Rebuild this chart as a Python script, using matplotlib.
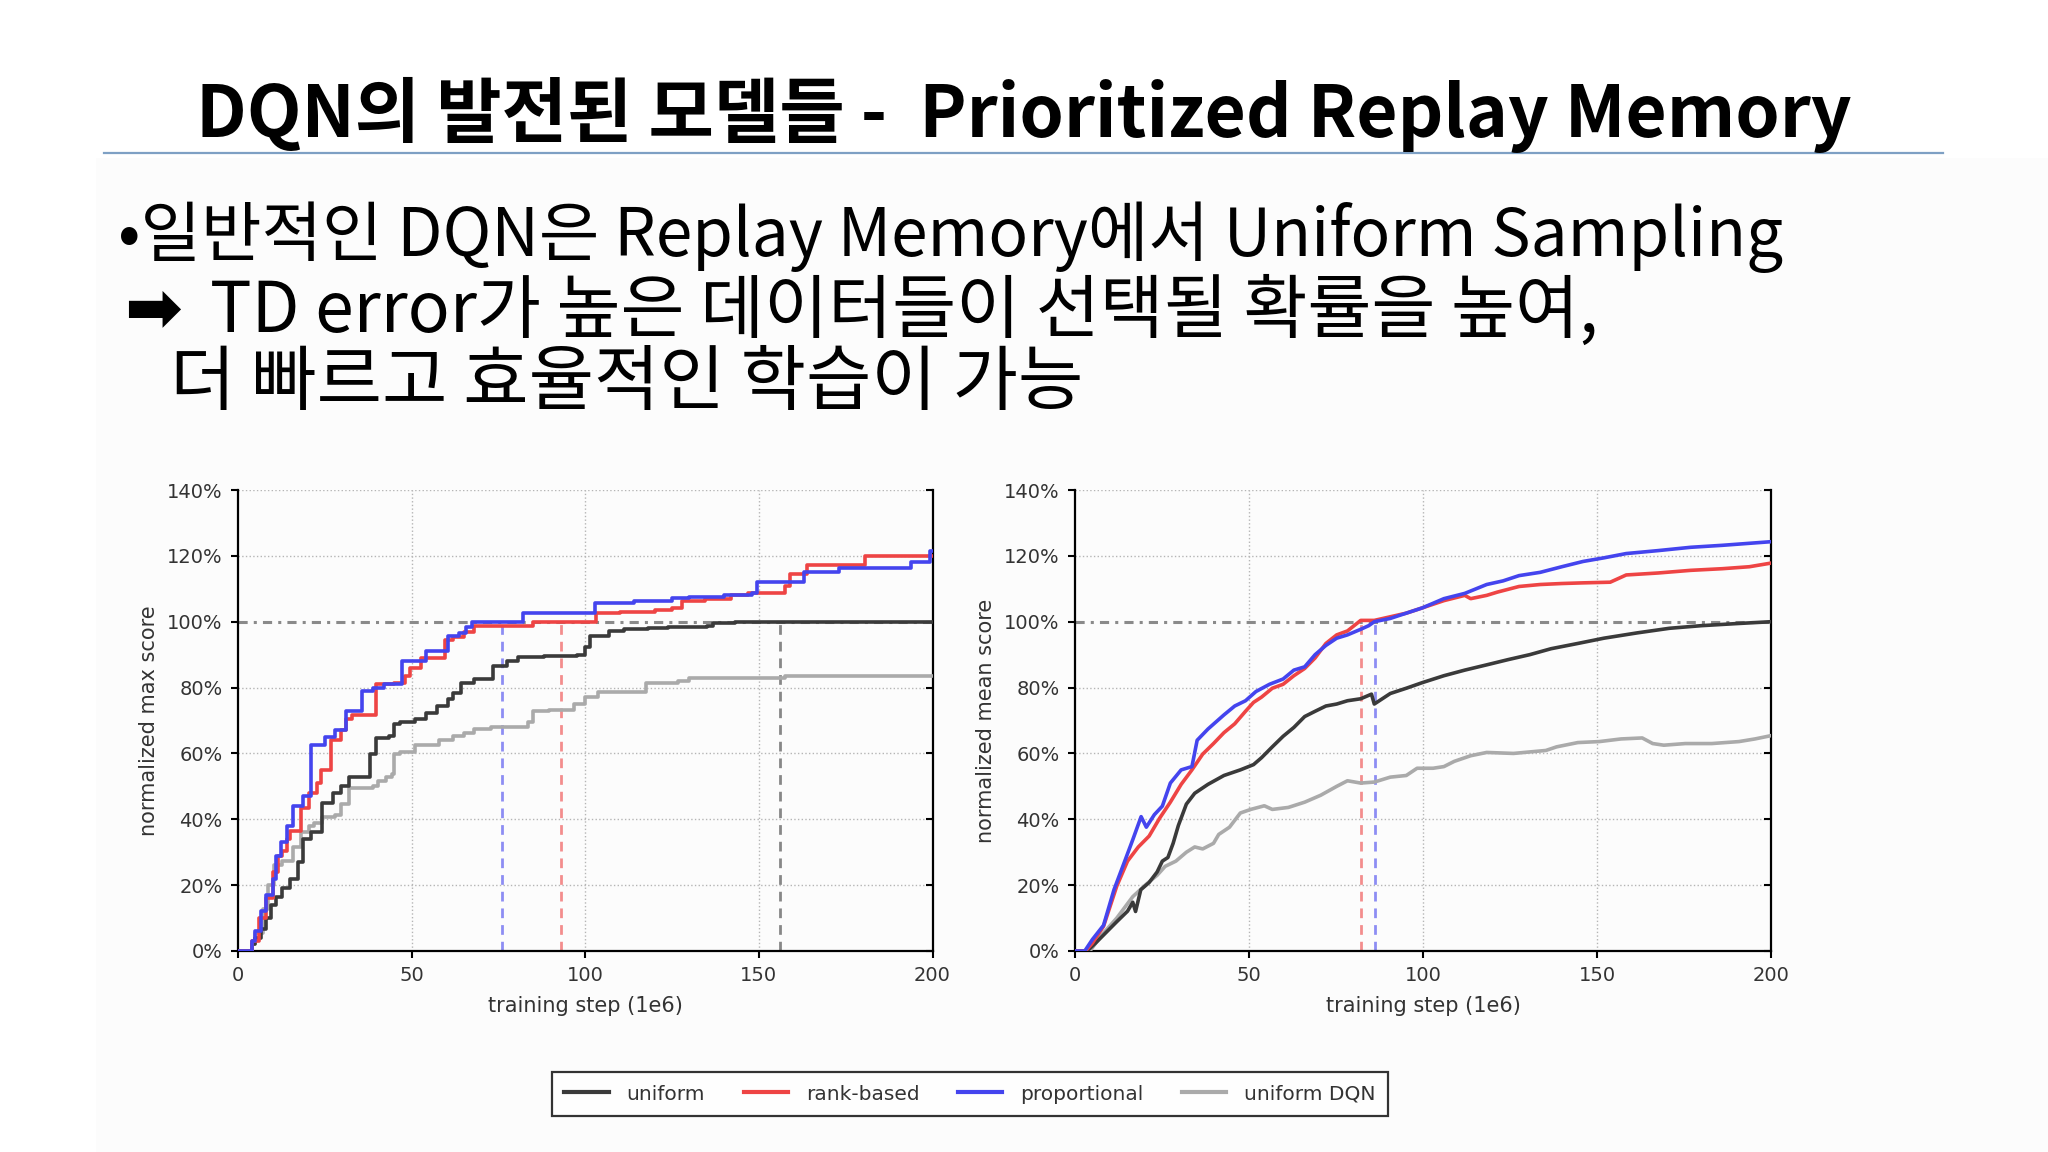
import matplotlib
matplotlib.use("Agg")
import matplotlib.pyplot as plt
from matplotlib.patches import Rectangle
from matplotlib.lines import Line2D

plt.rcParams['font.family'] = ['DejaVu Sans']

W, H = 2048, 1152

# ---------------- data ----------------
title_text = "DQN의 발전된 모델들 -  Prioritized Replay Memory"
body_line1 = "•일반적인 DQN은 Replay Memory에서 Uniform Sampling"
body_arrow = "➡"
body_line2 = "TD error가 높은 데이터들이 선택될 확률을 높여,"
body_line3 = "더 빠르고 효율적인 학습이 가능"

series_names = ["uniform", "rank-based", "proportional", "uniform DQN"]
series_colors = ["#3a3a3a", "#ee4444", "#4444ee", "#aaaaaa"]

x_ticks = [0, 50, 100, 150, 200]
y_ticks = [0, 20, 40, 60, 80, 100, 120, 140]
y_tick_labels = ["0%", "20%", "40%", "60%", "80%", "100%", "120%", "140%"]

# left panel: normalized max score (step curves, value holds from x onward)
max_uniform_x = [0, 2, 4, 5, 6.5, 8, 9.6, 11, 12.6, 15, 17.3, 18.8, 21, 24.2, 27.3, 29.6, 32, 38, 39.6,
                 43.5, 45, 46.6, 51, 54, 57.4, 60.4, 62, 64.3, 68, 73.5, 77.4, 80.5, 88, 97.5, 99.8,
                 101.3, 106.7, 111.3, 118, 123.7, 135, 136.8, 143, 200]
max_uniform_y = [0, 0, 2, 4, 6.7, 10, 14, 16.5, 19, 22, 27, 34, 36, 45, 48, 50, 52.8, 59.8, 64.7,
                 65.2, 69, 69.6, 70.6, 72.3, 74.4, 76.6, 78.2, 81.5, 82.6, 86.6, 88, 89.3, 89.6, 90, 92.3,
                 95.6, 97.2, 97.7, 98, 98.3, 98.8, 99.7, 100, 100]

max_rank_x = [0, 2, 4, 6, 8, 10, 11.5, 12.6, 14, 15, 18, 20.4, 22.7, 24, 26.8, 29.6, 31, 32.7, 39.6,
              45, 48, 49.6, 52.7, 59.7, 62, 65, 68, 85, 103, 110, 120, 125, 128, 134.5, 142, 147,
              157.6, 159, 163.8, 180.7, 200]
max_rank_y = [0, 0, 3, 10, 16, 24, 29, 30.5, 34, 36.5, 43.5, 48, 51, 55, 64, 67, 70.6, 71.7, 81,
              81.5, 83.6, 86, 89, 94.5, 95.5, 97, 98.8, 100, 102.6, 103, 103.6, 104.2, 106.4, 107, 108, 108.6,
              110.7, 114.5, 117.2, 120, 120]

max_prop_x = [0, 2, 4, 5, 6.5, 8, 10, 11, 12.5, 14, 15.7, 18.8, 21, 25, 28, 31, 35.8, 38.9, 42, 47.3,
              54, 60.4, 63.5, 65.8, 67.4, 82, 102.9, 114, 125, 130, 140, 148, 149.5, 163, 173, 193.8,
              199.2, 200]
max_prop_y = [0, 0, 3, 6, 12, 17, 22, 29, 33, 38, 44, 47, 62.5, 65, 67, 73, 79, 80, 81, 88,
              91, 95.6, 96.6, 98.5, 100, 102.6, 105.8, 106.4, 107.2, 107.5, 108.2, 108.6, 112, 115, 116.4, 118,
              121.6, 121.6]

max_dqn_x = [0, 2, 4, 5, 7.2, 8.5, 10.3, 12.6, 15.7, 18, 20.4, 22, 24.2, 28, 29.6, 32, 38.9, 40.4,
             42.7, 44.3, 45, 46.6, 51, 58, 62, 65, 68, 72.8, 83.6, 85, 89.7, 96.7, 99.8, 103.6, 117.5,
             126.8, 129.8, 157.6, 200]
max_dqn_y = [0, 0, 2, 5.6, 12.7, 20, 26, 27.3, 31.6, 36, 38, 39, 40.8, 41.4, 44.6, 49.5, 50, 51.7,
             52.8, 53.8, 59.8, 60.3, 62.5, 64.1, 65.2, 66.3, 67.4, 68, 69.6, 72.8, 73.3, 75, 77, 78.8, 81.5,
             82, 83, 83.6, 83.6]

# right panel: normalized mean score
mean_uniform_x = [0, 3.5, 5.9, 8.9, 12, 15.1, 16.6, 17.4, 18.9, 21.3, 23.6, 25.1, 26.7, 28.2, 29.7, 32,
                  34.4, 38.2, 42.8, 47.5, 51.3, 53.6, 56.7, 59.8, 62.9, 66, 69, 72.1, 75.2, 78.3, 82.1,
                  85.2, 86, 90.6, 95.2, 99.8, 106, 112, 118.3, 124.5, 130.7, 136.8, 144.5, 152, 161.5,
                  170.8, 180, 189.6, 200]
mean_uniform_y = [0, 0, 2.4, 5.6, 8.9, 12.1, 14.8, 12, 18.6, 20.8, 24, 27.3, 28.4, 32.7, 38.1, 44.6,
                  47.9, 50.6, 53.3, 55, 56.6, 58.7, 62, 65.2, 67.9, 71.2, 72.8, 74.4, 75, 76, 76.6,
                  78, 75, 78.2, 79.8, 81.5, 83.6, 85.3, 86.9, 88.5, 90, 91.8, 93.4, 95, 96.6,
                  98, 98.8, 99.4, 100]

mean_rank_x = [0, 3, 5, 8.2, 12, 15.1, 18.2, 21.3, 24.3, 27.4, 30.5, 33.6, 36.7, 39.8, 42.8, 45.9, 49,
               51.3, 53.6, 56.7, 59.8, 62.9, 66, 69, 72.1, 75.2, 78.3, 82.1, 86, 90.6, 95.2, 99.8, 106,
               112, 113.7, 118.3, 121.4, 127.6, 133.7, 139.9, 146, 153.8, 158.4, 167.6, 176.9, 186,
               193.8, 200]
mean_rank_y = [0, 0, 2.4, 7.5, 19.7, 27.3, 31.6, 34.9, 40.3, 45.2, 50.6, 55, 59.8, 63, 66.3, 69, 72.8,
               75.5, 77.1, 79.8, 81, 83.6, 85.8, 89, 93.4, 96, 97.2, 100.4, 100.4, 101.5, 102.6, 104.2, 106.4,
               108, 107, 108, 109, 110.7, 111.3, 111.6, 111.8, 112, 114.2, 114.8, 115.6, 116.1,
               116.7, 117.8]

mean_prop_x = [0, 2.8, 5, 8.2, 11.2, 14.3, 16.6, 19, 20.5, 22.8, 25.1, 27.4, 30.5, 33.6, 35.1, 38.2,
               42.8, 45.9, 49, 52, 55.9, 59.8, 62.9, 66, 69, 72.1, 75.2, 78.3, 82.1, 84.4, 86, 90.6,
               95.2, 99.8, 106, 112, 118.3, 123, 127.6, 133.7, 139.9, 146, 152, 158.4, 167.6, 176.9,
               186, 200]
mean_prop_y = [0, 0, 3.5, 7.8, 18.6, 27.3, 33.8, 40.8, 37.6, 41.4, 44, 51, 55, 56, 64, 67.4,
               71.7, 74.4, 76, 78.8, 81, 82.6, 85.3, 86.3, 90, 92.8, 95, 96, 97.7, 98.8, 100, 101,
               102.6, 104.2, 107, 108.6, 111.3, 112.4, 114, 115, 116.7, 118.3, 119.4, 120.7, 121.6, 122.6,
               123.2, 124.3]

mean_dqn_x = [0, 4.3, 7.4, 12, 16.6, 20.5, 23.6, 25.9, 29, 32, 34.4, 36.7, 39.8, 41.3, 44.4, 47.5, 50.5,
              54.4, 56.7, 61.3, 66, 70.6, 75.2, 78.3, 82.1, 86, 90.6, 95.2, 98.3, 102.9, 106, 109, 113.7,
              118.3, 126, 135.3, 138.4, 144.5, 150.7, 156.9, 163, 166, 169.2, 175.4, 183, 190.8, 195.4,
              200]
mean_dqn_y = [0, 0, 4.5, 10, 16.5, 20.3, 23, 25.7, 27.3, 30, 31.6, 31, 32.7, 35.4, 37.6, 41.9, 43,
              44.1, 43, 43.6, 45.2, 47.3, 50, 51.7, 51, 51.3, 52.8, 53.3, 55.5, 55.5, 56, 57.6, 59.3,
              60.3, 60, 60.9, 62, 63.3, 63.6, 64.4, 64.7, 63, 62.5, 63, 63, 63.6, 64.4,
              65.4]

# threshold marks (training step where 100% is first reached)
max_marks_x = [76, 93, 156]
max_marks_colors = ["#4444ee", "#ee4444", "#3a3a3a"]
mean_marks_x = [82.1, 86.3]
mean_marks_colors = ["#ee4444", "#4444ee"]

# ---------------- figure ----------------
fig = plt.figure(figsize=(W / 100, H / 100), dpi=100)
fig.patch.set_facecolor("white")


def fx(px):
    return px / W


def fy(py):
    return 1 - py / H


# faint slide content background
fig.patches.append(Rectangle((fx(96), 0), 1 - fx(96), fy(158), transform=fig.transFigure,
                             facecolor="#fcfcfc", edgecolor="none", zorder=-10))

# title
title = fig.text(fx(196), fy(137), title_text, fontsize=50, fontweight="bold",
                 family=["Noto Sans CJK KR", "DejaVu Sans"], ha="left", va="baseline", color="black")
fig.add_artist(Line2D([fx(104), fx(1943)], [fy(153), fy(153)], transform=fig.transFigure,
                      color="#7ea0c4", lw=1.6))

t1 = fig.text(fx(118), fy(256), body_line1, fontsize=44, family=["Noto Sans CJK KR", "DejaVu Sans"],
              ha="left", va="baseline", color="black")
ta = fig.text(fx(124), fy(330), body_arrow, fontsize=44, family=["DejaVu Sans"], fontweight="bold",
              ha="left", va="baseline", color="black")
t2 = fig.text(fx(210), fy(332), body_line2, fontsize=44, family=["Noto Sans CJK KR", "DejaVu Sans"],
              ha="left", va="baseline", color="black")
t3 = fig.text(fx(170), fy(404), body_line3, fontsize=44, family=["Noto Sans CJK KR", "DejaVu Sans"],
              ha="left", va="baseline", color="black")

fig.canvas.draw()
rend = fig.canvas.get_renderer()
for t, target in [(title, 1852 - 196), (t1, 1784 - 118), (t2, 1600 - 210), (t3, 1084 - 170), (ta, 182 - 124)]:
    bb = t.get_window_extent(rend)
    t.set_fontsize(t.get_fontsize() * target / bb.width)

label_color = "#333333"


def style_axes(ax, ylabel):
    ax.set_xlim(0, 200)
    ax.set_ylim(0, 140)
    ax.set_facecolor("none")
    ax.set_xticks(x_ticks)
    ax.set_yticks(y_ticks)
    ax.set_yticklabels(y_tick_labels)
    for v in x_ticks[1:-1]:
        ax.axvline(v, color="#b5b5b5", lw=1.0, ls=":", zorder=0)
    for v in y_ticks[1:]:
        if v == 100:
            continue
        ax.axhline(v, color="#b5b5b5", lw=1.0, ls=":", zorder=0)
    ax.axhline(100, color="#8a8a8a", lw=2.2, ls=(0, (3, 2, 1, 2)), zorder=1)
    ax.spines["top"].set_visible(False)
    for s in ["left", "bottom", "right"]:
        ax.spines[s].set_linewidth(1.6)
        ax.spines[s].set_color("black")
    ax.tick_params(axis="both", which="both", labelsize=14, labelcolor=label_color, color="black",
                   width=1.5, length=5, direction="out", pad=6)
    ax.tick_params(axis="y", right=True, labelright=False)
    ax.set_xlabel("training step (1e6)", fontsize=15, color=label_color, labelpad=8)
    ax.set_ylabel(ylabel, fontsize=15, color=label_color, labelpad=6)


ax1 = fig.add_axes([fx(238), fy(951), fx(932.5 - 238), (951 - 490) / H])
ax2 = fig.add_axes([fx(1075), fy(951), fx(1771 - 1075), (951 - 490) / H])

style_axes(ax1, "normalized max score")
style_axes(ax2, "normalized mean score")

lw = 2.6
max_sets = [(max_uniform_x, max_uniform_y), (max_rank_x, max_rank_y), (max_prop_x, max_prop_y),
            (max_dqn_x, max_dqn_y)]
mean_sets = [(mean_uniform_x, mean_uniform_y), (mean_rank_x, mean_rank_y), (mean_prop_x, mean_prop_y),
             (mean_dqn_x, mean_dqn_y)]
order = [3, 0, 1, 2]
handles = [None] * 4
for i in order:
    xs, ys = max_sets[i]
    ax1.plot(xs, ys, drawstyle="steps-post", color=series_colors[i], lw=lw, zorder=3)
    xs, ys = mean_sets[i]
    h, = ax2.plot(xs, ys, color=series_colors[i], lw=lw, zorder=3, label=series_names[i])
    handles[i] = h

for xv, c in zip(max_marks_x, max_marks_colors):
    ax1.plot([xv, xv], [0, 100], color=c, lw=2.0, ls=(0, (3.5, 2.5)), alpha=0.6, zorder=2)
for xv, c in zip(mean_marks_x, mean_marks_colors):
    ax2.plot([xv, xv], [0, 100], color=c, lw=2.0, ls=(0, (3.5, 2.5)), alpha=0.6, zorder=2)

# right-side ticks point inward
for ax in (ax1, ax2):
    for line in ax.yaxis.get_ticklines()[1::2]:
        line.set_marker(0)

leg = fig.legend(handles, series_names, loc="center", bbox_to_anchor=(fx(970), fy(1094)), ncol=4,
                 fontsize=14.5, frameon=True, fancybox=False, handlelength=2.2, handletextpad=0.9,
                 columnspacing=1.9, borderpad=0.6)
leg.get_frame().set_edgecolor("black")
leg.get_frame().set_linewidth(1.6)
for t in leg.get_texts():
    t.set_color(label_color)
for h in leg.legend_handles:
    h.set_linewidth(3)

fig.savefig("out.png", dpi=100, facecolor="white")
